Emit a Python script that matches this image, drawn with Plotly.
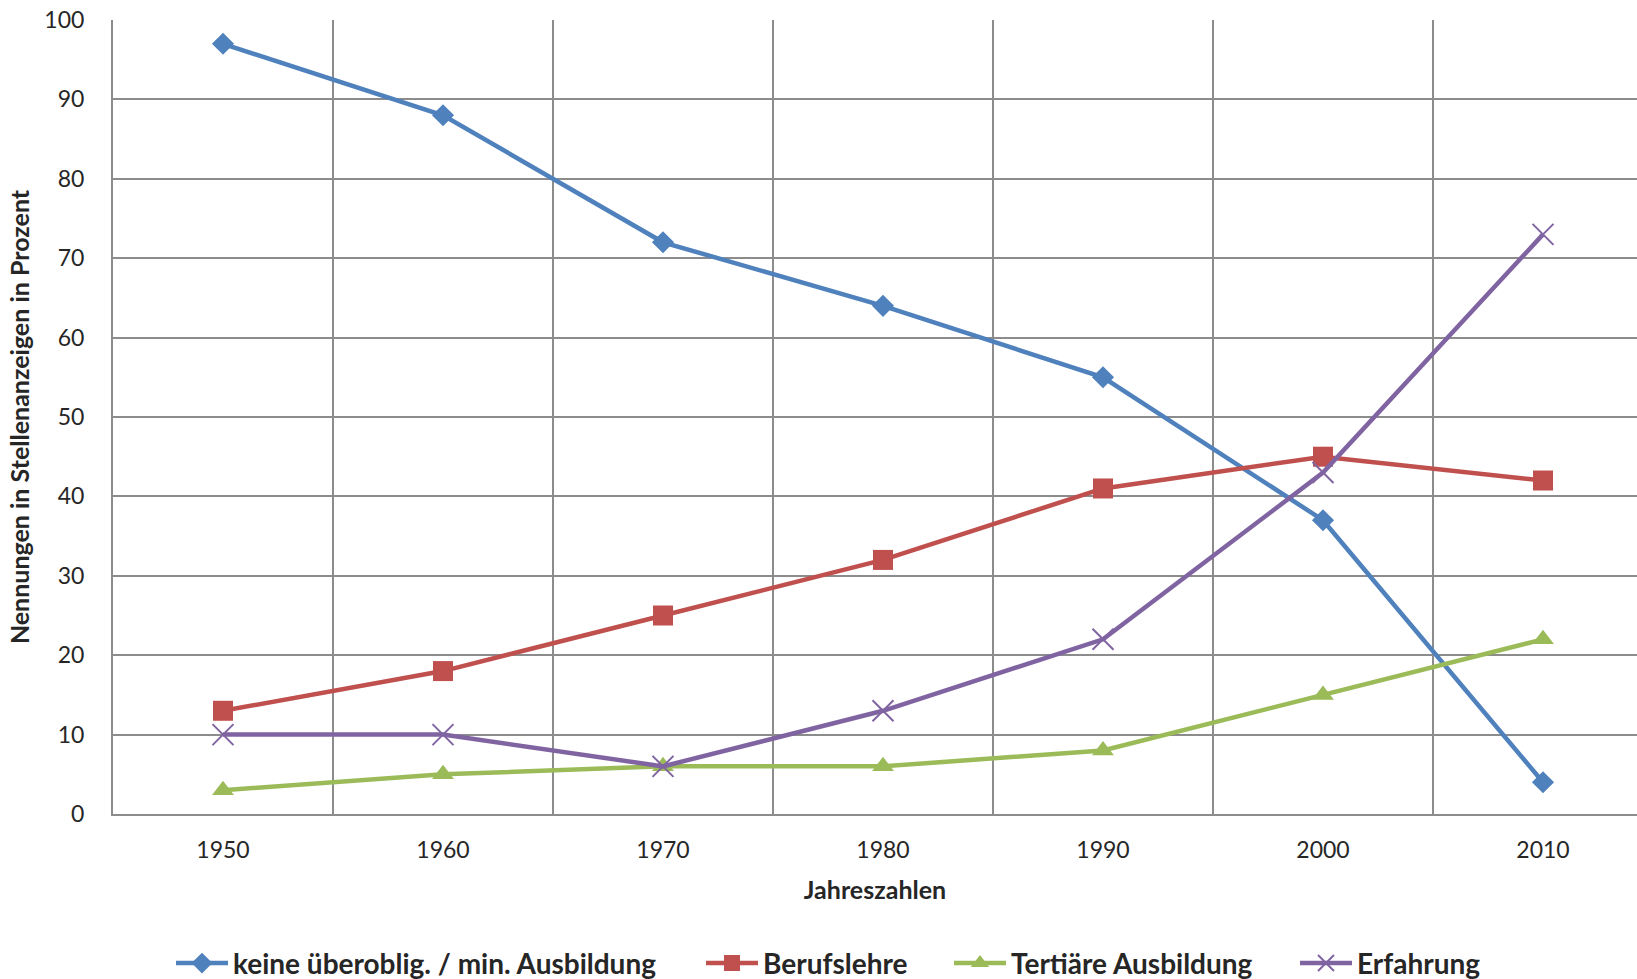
import plotly.graph_objects as go

# Stellenanzeigen: Anteil der Nennungen je Anforderung (in Prozent)
jahre = [1950, 1960, 1970, 1980, 1990, 2000, 2010]
keine_ausbildung = [97, 88, 72, 64, 55, 37, 4]
berufslehre = [13, 18, 25, 32, 41, 45, 42]
tertiaer = [3, 5, 6, 6, 8, 15, 22]
erfahrung = [10, 10, 6, 13, 22, 43, 73]

y_ticks = list(range(0, 101, 10))

FONT = "Lato"
TEXT = "#262626"
GRID = "#8c8c8c"
W, H = 1637, 979

series = [
    ("keine überoblig. / min. Ausbildung", keine_ausbildung, "#4F81BD",
     dict(symbol="diamond", size=17)),
    ("Berufslehre", berufslehre, "#C0504D",
     dict(symbol="square", size=20)),
    ("Tertiäre Ausbildung", tertiaer, "#9BBB59",
     dict(symbol="triangle-up", size=19)),
    ("Erfahrung", erfahrung, "#8064A2",
     dict(symbol="x-thin", size=21, line=dict(width=2, color="#8064A2"))),
]

# left edge (px) of each legend entry along the bottom row
legend_left_px = [171, 701, 949, 1295]

fig = go.Figure()
legend_layout = {}
for i, (name, values, color, marker) in enumerate(series):
    key = "legend" if i == 0 else f"legend{i + 1}"
    fig.add_trace(go.Scatter(
        x=jahre, y=values, name=name, mode="lines+markers",
        line=dict(color=color, width=4.5),
        marker=dict(color=color, **marker),
        legend=key,
    ))
    legend_layout[key] = dict(
        orientation="h", xref="container", yref="container",
        x=legend_left_px[i] / W, xanchor="left",
        y=0.016, yanchor="middle",
        font=dict(family=FONT, size=28, color=TEXT, weight="bold"),
        itemwidth=52, bgcolor="rgba(0,0,0,0)",
    )

# category spacing: 22 px per year, plot runs to the right edge
left_px = 113
x_end = 1945 + (W - left_px) / 22.0

fig.update_layout(
    width=W, height=H,
    margin=dict(l=left_px, r=0, t=20, b=165),
    paper_bgcolor="white", plot_bgcolor="white",
    font=dict(family=FONT, color=TEXT, size=23),
    showlegend=True,
    **legend_layout,
)

fig.update_xaxes(
    range=[1945, x_end],
    tickvals=jahre, ticktext=[str(j) for j in jahre],
    showgrid=False, zeroline=False,
    showline=True, linecolor=GRID, linewidth=2,
    ticks="", ticklabelstandoff=14,
    tickfont=dict(family=FONT, size=23, color=TEXT),
    minor=dict(tick0=1945, dtick=10, showgrid=True,
               gridcolor=GRID, gridwidth=2),
    title=dict(text="Jahreszahlen", standoff=20,
               font=dict(family=FONT, size=25, color=TEXT, weight="bold")),
)

fig.update_yaxes(
    range=[0, 100], tickvals=y_ticks,
    showgrid=True, gridcolor=GRID, gridwidth=2,
    zeroline=False, showline=True, linecolor=GRID, linewidth=2,
    ticks="", ticklabelstandoff=22,
    tickfont=dict(family=FONT, size=23, color=TEXT),
    title=dict(text="Nennungen in Stellenanzeigen in Prozent", standoff=8,
               font=dict(family=FONT, size=25, color=TEXT, weight="bold")),
)

fig.write_html("out.html")
